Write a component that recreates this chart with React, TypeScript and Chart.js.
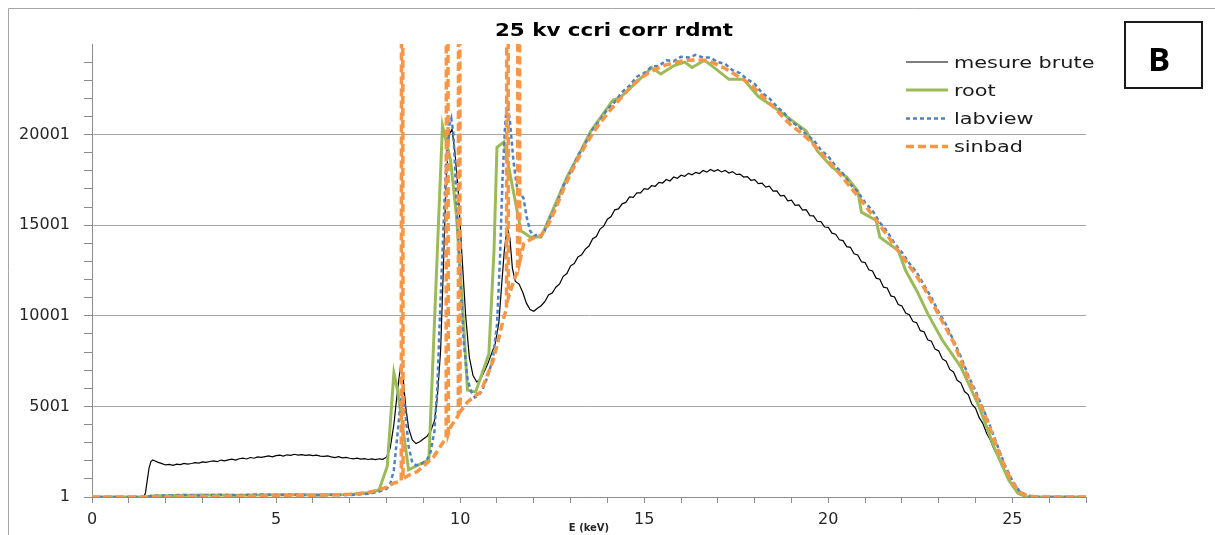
import { useEffect, useRef } from 'react';
import { Chart, registerables } from 'chart.js';

Chart.register(...registerables);

// ---------- texts ----------
const TITLE = '25 kv ccri corr rdmt';
const X_TITLE = 'E (keV)';
const PANEL_LABEL = 'B';
const SERIES_NAMES = ['mesure brute', 'root', 'labview', 'sinbad'];
const SERIES_COLORS = ['#000000', '#9BBB59', '#4F81BD', '#F79646'];

// ---------- axes ----------
const X_TICKS = [0, 1, 2, 3, 4, 5, 6, 7, 8, 9, 10, 11, 12, 13, 14, 15, 16, 17, 18, 19, 20, 21, 22, 23, 24, 25, 26, 27];
const X_LABELED = [0, 5, 10, 15, 20, 25];
const Y_TICKS = [1, 1001, 2001, 3001, 4001, 5001, 6001, 7001, 8001, 9001, 10001, 11001, 12001, 13001, 14001, 15001, 16001, 17001, 18001, 19001, 20001, 21001, 22001, 23001, 24001];
const Y_LABELED = [1, 5001, 10001, 15001, 20001];

// ---------- mesure brute ----------
const BRUTE_E = [
  0, 1.4, 1.45, 1.5, 1.55, 1.6, 1.65, 1.7,
  1.8, 1.9, 2.0, 2.1, 2.2, 2.3, 2.4, 2.5, 2.6, 2.7, 2.8, 2.9,
  3.0, 3.1, 3.2, 3.3, 3.4, 3.5, 3.6, 3.7, 3.8, 3.9,
  4.0, 4.1, 4.2, 4.3, 4.4, 4.5, 4.6, 4.7, 4.8, 4.9,
  5.0, 5.1, 5.2, 5.3, 5.4, 5.5, 5.6, 5.7, 5.8, 5.9,
  6.0, 6.1, 6.2, 6.3, 6.4, 6.5, 6.6, 6.7, 6.8, 6.9,
  7.0, 7.1, 7.2, 7.3, 7.4, 7.5, 7.6, 7.7, 7.8, 7.9,
  8.0, 8.1, 8.2, 8.3, 8.38, 8.45, 8.52, 8.6, 8.7, 8.8, 8.9,
  9.0, 9.1, 9.2, 9.3, 9.38, 9.47, 9.55, 9.62, 9.7, 9.78, 9.86, 9.95,
  10.05, 10.15, 10.25, 10.35, 10.45, 10.55, 10.65, 10.75, 10.85, 10.95,
  11.05, 11.12, 11.2, 11.28, 11.35, 11.42, 11.5, 11.6, 11.7, 11.8, 11.9,
  12.0, 12.1, 12.2, 12.3, 12.4, 12.5, 12.6, 12.7, 12.8, 12.9,
  13.0, 13.1, 13.2, 13.3, 13.4, 13.5, 13.6, 13.7, 13.8, 13.9,
  14.0, 14.1, 14.2, 14.3, 14.4, 14.5, 14.6, 14.7, 14.8, 14.9,
  15.0, 15.1, 15.2, 15.3, 15.4, 15.5, 15.6, 15.7, 15.8, 15.9,
  16.0, 16.1, 16.2, 16.3, 16.4, 16.5, 16.6, 16.7, 16.8, 16.9,
  17.0, 17.1, 17.2, 17.3, 17.4, 17.5, 17.6, 17.7, 17.8, 17.9,
  18.0, 18.1, 18.2, 18.3, 18.4, 18.5, 18.6, 18.7, 18.8, 18.9,
  19.0, 19.1, 19.2, 19.3, 19.4, 19.5, 19.6, 19.7, 19.8, 19.9,
  20.0, 20.1, 20.2, 20.3, 20.4, 20.5, 20.6, 20.7, 20.8, 20.9,
  21.0, 21.1, 21.2, 21.3, 21.4, 21.5, 21.6, 21.7, 21.8, 21.9,
  22.0, 22.1, 22.2, 22.3, 22.4, 22.5, 22.6, 22.7, 22.8, 22.9,
  23.0, 23.1, 23.2, 23.3, 23.4, 23.5, 23.6, 23.7, 23.8, 23.9,
  24.0, 24.1, 24.2, 24.3, 24.4, 24.5, 24.6, 24.7, 24.8, 24.9,
  25.0, 25.1, 25.2, 25.3, 25.4, 25.5, 27
];
const BRUTE_V = [
  1, 1, 200, 900, 1600, 1950, 2050, 2000,
  1910, 1840, 1770, 1800, 1750, 1810, 1790, 1860, 1820, 1850, 1900, 1870,
  1940, 1910, 1960, 1990, 1950, 2040, 2000, 2050, 2090, 2040,
  2110, 2150, 2100, 2180, 2140, 2210, 2190, 2230, 2270, 2220,
  2280, 2310, 2260, 2330, 2300, 2360, 2310, 2340, 2300, 2320,
  2280, 2310, 2260, 2240, 2270, 2220, 2180, 2230, 2160, 2190,
  2140, 2110, 2150, 2090, 2120, 2070, 2100, 2060, 2110, 2080,
  2200, 2700, 4000, 5900, 7200, 6600, 5000, 3800, 3150, 2950, 3050,
  3200, 3350, 3650, 4200, 5500, 8100, 13000, 17500, 20000, 20300, 19000, 16800,
  13300, 10000, 7700, 6700, 6350, 6500, 6900, 7350, 7900, 8450,
  9600, 11500, 13600, 14900, 14300, 12600, 11900, 11750, 11300, 10700, 10350,
  10250, 10420, 10560, 10780, 11150, 11260, 11580, 11760, 12180, 12330,
  12760, 12880, 13250, 13370, 13680, 13850, 14260, 14380, 14790, 14950,
  15330, 15480, 15850, 15900, 16180, 16260, 16560, 16540, 16790, 16780,
  17020, 16980, 17180, 17150, 17360, 17330, 17520, 17440, 17660, 17590,
  17760, 17700, 17860, 17780, 17920, 17850, 18020, 17930, 18080, 17970,
  18060, 17940, 18020, 17880, 17960, 17800, 17820, 17660, 17680, 17480,
  17520, 17300, 17320, 17100, 17160, 16880, 16900, 16620, 16640, 16350,
  16380, 16100, 16120, 15830, 15860, 15530, 15520, 15220, 15200, 14900,
  14880, 14560, 14500, 14200, 14150, 13820, 13780, 13420, 13360, 12980,
  12940, 12540, 12480, 12080, 12020, 11580, 11540, 11100, 11040, 10620,
  10540, 10150, 10060, 9680, 9620, 9180, 9120, 8680, 8600, 8160,
  8060, 7620, 7500, 7040, 6900, 6440, 6300, 5820, 5650, 5120,
  4900, 4380, 4050, 3520, 3150, 2650, 2250, 1800, 1450, 1000,
  650, 330, 150, 60, 20, 1, 1
];

// ---------- root ----------
const ROOT_E = [
  0, 1.5, 1.6, 2.2, 3.0, 4.0, 5.0, 6.0, 7.0, 7.6, 7.8, 8.02, 8.2, 8.3, 8.6, 9.15, 9.52, 9.74, 9.9, 10.05, 10.2, 10.42,
  10.78, 10.92, 11.0, 11.19, 11.65, 11.9, 12.2, 12.55, 12.9, 13.2, 13.55, 14.15, 14.35, 14.9, 15.2, 15.45, 15.8, 16.1,
  16.3, 16.64, 16.9, 17.3, 17.7, 18.1, 18.5, 18.9, 19.4, 19.7, 20.1, 20.5, 20.8, 20.9, 21.3, 21.4, 21.9, 22.1, 22.4,
  22.7, 23.1, 23.6, 24.1, 24.5, 24.9, 25.15, 25.4, 27
];
const ROOT_V = [
  1, 1, 50, 90, 110, 100, 130, 120, 140, 250, 400, 1700, 6850, 5900, 1500, 2050, 20500, 18600, 15500, 11000, 5900, 5800,
  7900, 13600, 19300, 19600, 14700, 14350, 14350, 16000, 17650, 18800, 20200, 21900, 22050, 23100, 23700, 23350, 23800, 24000,
  23700, 24100, 23700, 23050, 23050, 22100, 21550, 20950, 20200, 19100, 18200, 17650, 16900, 15720, 15260, 14340, 13600, 12500, 11400,
  10120, 8650, 7180, 4975, 2770, 940, 200, 1, 1
];

// ---------- labview ----------
const LABVIEW_E = [
  0, 1.5, 1.6, 2.0, 2.5, 3.0, 3.5, 4.0, 4.5, 5.0, 5.5, 6.0, 6.5, 7.0, 7.5, 7.8, 8.0, 8.1, 8.2, 8.3, 8.38, 8.45, 8.52,
  8.6, 8.7, 8.8, 8.9, 9.0, 9.1, 9.2, 9.3, 9.38, 9.45, 9.55, 9.62, 9.7, 9.76, 9.82, 9.9, 10.0, 10.1, 10.2, 10.3, 10.4,
  10.5, 10.6, 10.7, 10.8, 10.9, 11.0, 11.08, 11.15, 11.22, 11.28, 11.35, 11.45, 11.55, 11.65, 11.72, 11.8, 11.9, 12.0,
  12.1, 12.2, 12.3, 12.4, 12.6, 12.8, 13.0, 13.2, 13.4, 13.6, 13.8, 14.0, 14.2, 14.4, 14.6, 14.8, 15.0, 15.2, 15.4,
  15.6, 15.8, 16.0, 16.2, 16.4, 16.6, 16.8, 17.0, 17.2, 17.4, 17.6, 17.8, 18.0, 18.2, 18.4, 18.6, 18.8, 19.0, 19.2,
  19.4, 19.6, 19.8, 20.0, 20.2, 20.4, 20.6, 20.8, 21.0, 21.2, 21.4, 21.6, 21.8, 22.0, 22.2, 22.4, 22.6, 22.8, 23.0,
  23.2, 23.4, 23.6, 23.8, 24.0, 24.2, 24.4, 24.6, 24.8, 25.0, 25.2, 25.4, 25.6, 25.8, 27
];
const LABVIEW_V = [
  1, 1, 60, 90, 110, 80, 120, 100, 140, 110, 130, 90, 120, 110, 180, 300, 450, 700, 1500, 3500, 5200, 5800, 4500,
  2800, 1900, 1750, 1800, 1900, 2050, 2500, 3600, 6000, 10000, 15000, 18500, 20500, 20900, 20000, 16500, 12000, 8500, 6500, 5800, 5500,
  5600, 5900, 6400, 7000, 7800, 9500, 13000, 17500, 20500, 21800, 20800, 18500, 17000, 16700, 16500, 15500, 14700, 14400,
  14500, 14400, 14700, 15250, 16050, 17150, 17950, 18850, 19500, 20300, 20800, 21400, 21800, 22350, 22700, 23200, 23400, 23750, 23800,
  24100, 24050, 24300, 24250, 24400, 24250, 24250, 24000, 23900, 23550, 23400, 23050, 22800, 22300, 22000, 21550, 21200, 20700, 20450,
  20000, 19700, 19150, 18800, 18250, 17850, 17250, 16850, 16250, 15800, 15150, 14650, 14000, 13500, 12900, 12400, 11700, 11000, 10200,
  9500, 8650, 7750, 6700, 5850, 4900, 3900, 2800, 1750, 900, 300, 80, 20, 1, 1
];

// ---------- sinbad ----------
const SINBAD_E = [
  0, 1.5, 2.0, 3.0, 4.0, 5.0, 6.0, 7.0, 7.5, 7.8, 8.0, 8.2, 8.4, 8.42, 8.45, 8.6, 8.83, 9.0, 9.28, 9.5, 9.62, 9.64, 9.68,
  9.74, 9.95, 9.97, 10.0, 10.2, 10.56, 10.9, 11.19, 11.26, 11.28, 11.31, 11.45, 11.56, 11.59, 11.62, 11.73, 11.9, 12.0,
  12.2, 12.4, 12.6, 12.8, 13.0, 13.2, 13.4, 13.6, 13.8, 14.0, 14.2, 14.4, 14.6, 14.8, 15.0, 15.2, 15.4, 15.6, 15.8,
  16.0, 16.2, 16.4, 16.6, 16.8, 17.0, 17.2, 17.4, 17.6, 17.8, 18.0, 18.2, 18.4, 18.6, 18.8, 19.0, 19.2, 19.4, 19.6,
  19.8, 20.0, 20.2, 20.4, 20.6, 20.8, 21.0, 21.2, 21.4, 21.6, 21.8, 22.0, 22.2, 22.4, 22.6, 22.8, 23.0, 23.2, 23.4,
  23.6, 23.8, 24.0, 24.2, 24.4, 24.6, 24.8, 25.0, 25.2, 25.4, 25.6, 25.8, 27
];
const SINBAD_V = [
  1, 1, 20, 30, 40, 60, 80, 150, 250, 400, 550, 770, 880, 90000, 1000, 1200, 1400, 1700, 2220, 2900, 3300, 90000, 3500,
  3870, 4500, 90000, 4700, 5250, 5800, 7550, 9930, 10400, 90000, 11000, 11900, 12500, 90000, 13000, 13980, 14200, 14300,
  14450, 15050, 15950, 16950, 17850, 18650, 19400, 20050, 20650, 21150, 21650, 22100, 22550, 22950, 23250, 23500, 23700, 23850, 23950,
  24050, 24100, 24120, 24100, 24030, 23850, 23650, 23400, 23150, 22900, 22550, 22150, 21750, 21350, 20900, 20500, 20200, 19850, 19450,
  19000, 18550, 18100, 17600, 17100, 16600, 16100, 15550, 15000, 14450, 13850, 13300, 12750, 12200, 11550, 10800, 10050, 9300, 8550,
  7550, 6550, 5650, 4800, 3750, 2650, 1650, 800, 280, 70, 15, 1, 1
];

const pts = (E: number[], V: number[]) => E.map((e, i) => ({ x: e, y: V[i] }));

const FONT = '"DejaVu Sans", sans-serif';

const decor = {
  id: 'decor',
  beforeDraw(chart: any) {
    const ctx = chart.ctx;
    ctx.save();
    ctx.fillStyle = '#ffffff';
    ctx.fillRect(0, 0, chart.width, chart.height);
    ctx.strokeStyle = '#a6a6a6';
    ctx.lineWidth = 1;
    ctx.beginPath();
    ctx.moveTo(8.5, chart.height);
    ctx.lineTo(8.5, 8.5);
    ctx.lineTo(chart.width, 8.5);
    ctx.stroke();
    ctx.restore();
  },
  afterDraw(chart: any) {
    const ctx = chart.ctx;
    ctx.save();
    // title
    ctx.fillStyle = '#000000';
    ctx.font = 'bold 18px ' + FONT;
    ctx.textAlign = 'center';
    ctx.textBaseline = 'alphabetic';
    ctx.translate(614, 36);
    ctx.scale(1.19, 1);
    ctx.fillText(TITLE, 0, 0);
    ctx.restore();

    // legend
    const rows = [62, 90, 118.5, 146.5];
    chart.data.datasets.forEach((ds: any, i: number) => {
      const y = rows[i];
      ctx.save();
      ctx.strokeStyle = ds.borderColor;
      ctx.lineWidth = ds.borderWidth;
      ctx.setLineDash(ds.borderDash || []);
      ctx.beginPath();
      ctx.moveTo(906, y);
      ctx.lineTo(948, y);
      ctx.stroke();
      ctx.restore();
      ctx.save();
      ctx.fillStyle = '#1a1a1a';
      ctx.font = '16px ' + FONT;
      ctx.textAlign = 'left';
      ctx.textBaseline = 'alphabetic';
      ctx.translate(954, y + 5.5);
      ctx.scale(1.3, 1);
      ctx.fillText(ds.label, 0, 0);
      ctx.restore();
    });

    // panel label box
    ctx.save();
    ctx.strokeStyle = '#1a1a1a';
    ctx.lineWidth = 2;
    ctx.strokeRect(1125, 22, 77, 66);
    ctx.fillStyle = '#000000';
    ctx.font = 'bold 33px "Open Sans", sans-serif';
    ctx.textAlign = 'center';
    ctx.textBaseline = 'alphabetic';
    ctx.fillText(PANEL_LABEL, 1159, 71);
    ctx.restore();
  },
};

export default function App() {
  const ref = useRef<HTMLCanvasElement | null>(null);

  useEffect(() => {
    if (!ref.current) return;
    const chart = new Chart(ref.current, {
      type: 'line',
      data: {
        datasets: [
          {
            label: SERIES_NAMES[0],
            data: pts(BRUTE_E, BRUTE_V),
            borderColor: SERIES_COLORS[0],
            borderWidth: 1.2,
            pointRadius: 0,
            order: 4,
          },
          {
            label: SERIES_NAMES[1],
            data: pts(ROOT_E, ROOT_V),
            borderColor: SERIES_COLORS[1],
            borderWidth: 3,
            pointRadius: 0,
            order: 3,
          },
          {
            label: SERIES_NAMES[2],
            data: pts(LABVIEW_E, LABVIEW_V),
            borderColor: SERIES_COLORS[2],
            borderWidth: 2.5,
            borderDash: [4, 3],
            pointRadius: 0,
            order: 2,
          },
          {
            label: SERIES_NAMES[3],
            data: pts(SINBAD_E, SINBAD_V),
            borderColor: SERIES_COLORS[3],
            borderWidth: 3.5,
            borderDash: [8, 4],
            pointRadius: 0,
            order: 1,
          },
        ],
      },
      options: {
        animation: false,
        responsive: false,
        maintainAspectRatio: false,
        layout: { padding: { top: 44, right: 129, left: 0, bottom: 0 } },
        plugins: {
          legend: { display: false },
          title: { display: false },
          tooltip: { enabled: false },
        },
        scales: {
          x: {
            type: 'linear',
            min: 0,
            max: 27,
            afterBuildTicks: (scale: any) => {
              scale.ticks = X_TICKS.map((v) => ({ value: v }));
            },
            afterFit: (scale: any) => {
              scale.height = 38;
            },
            ticks: {
              autoSkip: false,
              maxRotation: 0,
              padding: 7,
              color: '#262626',
              font: { family: FONT, size: 16 },
              callback: (v: any) => (X_LABELED.includes(Number(v)) ? String(v) : ''),
            },
            grid: {
              drawOnChartArea: false,
              drawTicks: true,
              tickLength: 6,
              tickColor: '#8c8c8c',
            },
            border: { display: true, color: '#8c8c8c', width: 1 },
            title: {
              display: true,
              text: X_TITLE,
              color: '#262626',
              font: { family: FONT, size: 10, weight: 'bold' },
              padding: { top: 0, bottom: 1 },
            },
          },
          y: {
            type: 'linear',
            min: 1,
            max: 25001,
            afterBuildTicks: (scale: any) => {
              scale.ticks = Y_TICKS.map((v) => ({ value: v }));
            },
            afterFit: (scale: any) => {
              scale.width = 92;
            },
            ticks: {
              autoSkip: false,
              padding: 14,
              color: '#262626',
              font: { family: FONT, size: 16 },
              callback: (v: any) => (Y_LABELED.includes(Number(v)) ? String(v) : ''),
            },
            grid: {
              drawTicks: true,
              tickLength: 8,
              tickColor: '#8c8c8c',
              color: (c: any) =>
                c.tick && Y_LABELED.includes(c.tick.value) && c.tick.value !== 1 ? '#a6a6a6' : 'rgba(0,0,0,0)',
            },
            border: { display: true, color: '#8c8c8c', width: 1 },
          },
        },
      },
      plugins: [decor],
    } as any);
    return () => chart.destroy();
  }, []);

  return (
    <div style={{ position: 'fixed', left: 0, top: 0, width: 1215, height: 535, background: '#fff' }}>
      <canvas ref={ref} width={1215} height={535} style={{ display: 'block', width: 1215, height: 535 }} />
    </div>
  );
}
